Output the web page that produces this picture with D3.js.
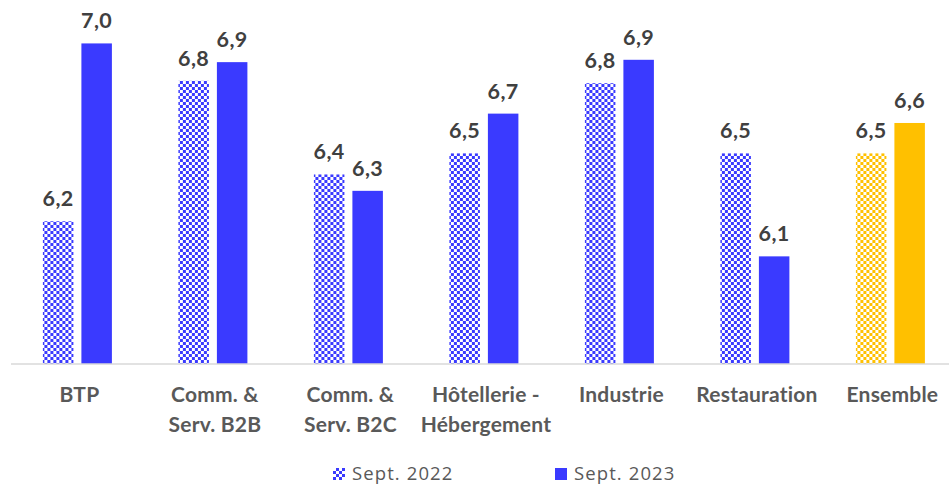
<!DOCTYPE html>
<html>
<head>
<meta charset="utf-8">
<script src="https://cdn.jsdelivr.net/npm/d3@7"></script>
<style>
  html, body { margin: 0; padding: 0; background: #fff; }
  svg { display: block; }
</style>
</head>
<body>
<svg id="chart" width="949" height="484"></svg>
<script>
// ---- data ----
const categories = ["BTP", "Comm. &\nServ. B2B", "Comm. &\nServ. B2C", "Hôtellerie -\nHébergement", "Industrie", "Restauration", "Ensemble"];
const seriesNames = ["Sept. 2022", "Sept. 2023"];
const values2022 = [6.21, 6.81, 6.41, 6.50, 6.80, 6.50, 6.50];
const values2023 = [6.97, 6.89, 6.34, 6.67, 6.90, 6.06, 6.63];
const highlightCategory = "Ensemble";

// ---- layout ----
const svg = d3.select("#chart");
const BLUE = "#3a3aff", GOLD = "#ffc000";

const defs = svg.append("defs");
function checker(id, color) {
  const p = defs.append("pattern").attr("id", id)
    .attr("patternUnits", "userSpaceOnUse").attr("width", 6).attr("height", 6);
  p.append("rect").attr("width", 6).attr("height", 6).attr("fill", "#fff");
  p.append("rect").attr("x", 0).attr("y", 0).attr("width", 3).attr("height", 3).attr("fill", color);
  p.append("rect").attr("x", 3).attr("y", 3).attr("width", 3).attr("height", 3).attr("fill", color);
}
checker("chkBlue", BLUE);
checker("chkGold", GOLD);

const x0 = d3.scaleBand().domain(categories).range([9.65, 958.15]).paddingInner(0).paddingOuter(0);
const x1 = d3.scaleBand().domain(seriesNames).range([-34.5, 34.5]).paddingInner(8 / 38.5).paddingOuter(0);
const y = d3.scaleLinear().domain([5.6, 7.0]).range([364, 36.4]);

const rows = categories.map((c, i) => ({
  cat: c,
  vals: [
    { s: seriesNames[0], v: values2022[i] },
    { s: seriesNames[1], v: values2023[i] }
  ]
}));

function fillFor(cat, s) {
  const hl = cat === highlightCategory;
  if (s === seriesNames[0]) return hl ? "url(#chkGold)" : "url(#chkBlue)";
  return hl ? GOLD : BLUE;
}

const g = svg.append("g");
const groups = g.selectAll("g.cat").data(rows).join("g")
  .attr("class", "cat")
  .attr("transform", d => `translate(${x0(d.cat) + x0.bandwidth() / 2},0)`);

groups.selectAll("rect").data(d => d.vals.map(v => ({ ...v, cat: d.cat }))).join("rect")
  .attr("x", d => x1(d.s))
  .attr("width", x1.bandwidth())
  .attr("y", d => y(d.v))
  .attr("height", d => y(y.domain()[0]) - y(d.v))
  .attr("fill", d => fillFor(d.cat, d.s));

const fmt = v => d3.format(".1f")(v).replace(".", ",");
groups.selectAll("text.val").data(d => d.vals).join("text")
  .attr("class", "val")
  .attr("x", d => x1(d.s) + x1.bandwidth() / 2)
  .attr("y", d => y(d.v) - 15)
  .attr("text-anchor", "middle")
  .attr("font-family", "Lato, 'Liberation Sans', sans-serif")
  .attr("font-weight", "bold")
  .attr("font-size", 21.5)
  .attr("letter-spacing", 0.4)
  .attr("fill", "#404040")
  .text(d => fmt(d.v));

// x axis line
const axis = d3.axisBottom(x0).tickSize(0).tickFormat("");
const ax = svg.append("g").attr("transform", `translate(0,${y(y.domain()[0])})`).call(axis);
ax.select(".domain").attr("stroke", "#d9d9d9").attr("stroke-width", 1.5)
  .attr("d", `M11,0H949`);

// category labels
ax.selectAll(".tick").each(function (d) {
  const t = d3.select(this).append("text")
    .attr("text-anchor", "middle")
    .attr("font-family", "Lato, 'Liberation Sans', sans-serif")
    .attr("font-weight", "bold")
    .attr("font-size", 21)
    .attr("letter-spacing", 0.2)
    .attr("fill", "#595959");
  d.split("\n").forEach((line, i) => {
    t.append("tspan").attr("x", 2).attr("y", 38 + i * 29.5).text(line);
  });
});

// legend
const legend = svg.append("g");
const legendItems = [
  { s: seriesNames[0], x: 333 },
  { s: seriesNames[1], x: 555 }
];
legendItems.forEach(it => {
  legend.append("rect").attr("x", it.x).attr("y", 468).attr("width", 12).attr("height", 12)
    .attr("fill", it.s === seriesNames[0] ? "url(#chkBlue)" : BLUE);
  legend.append("text").attr("x", it.x + 19).attr("y", 479.5)
    .attr("font-family", "'Open Sans', sans-serif")
    .attr("font-size", 18.5)
    .attr("letter-spacing", 1.1)
    .attr("fill", "#595959")
    .text(it.s);
});
</script>
</body>
</html>
